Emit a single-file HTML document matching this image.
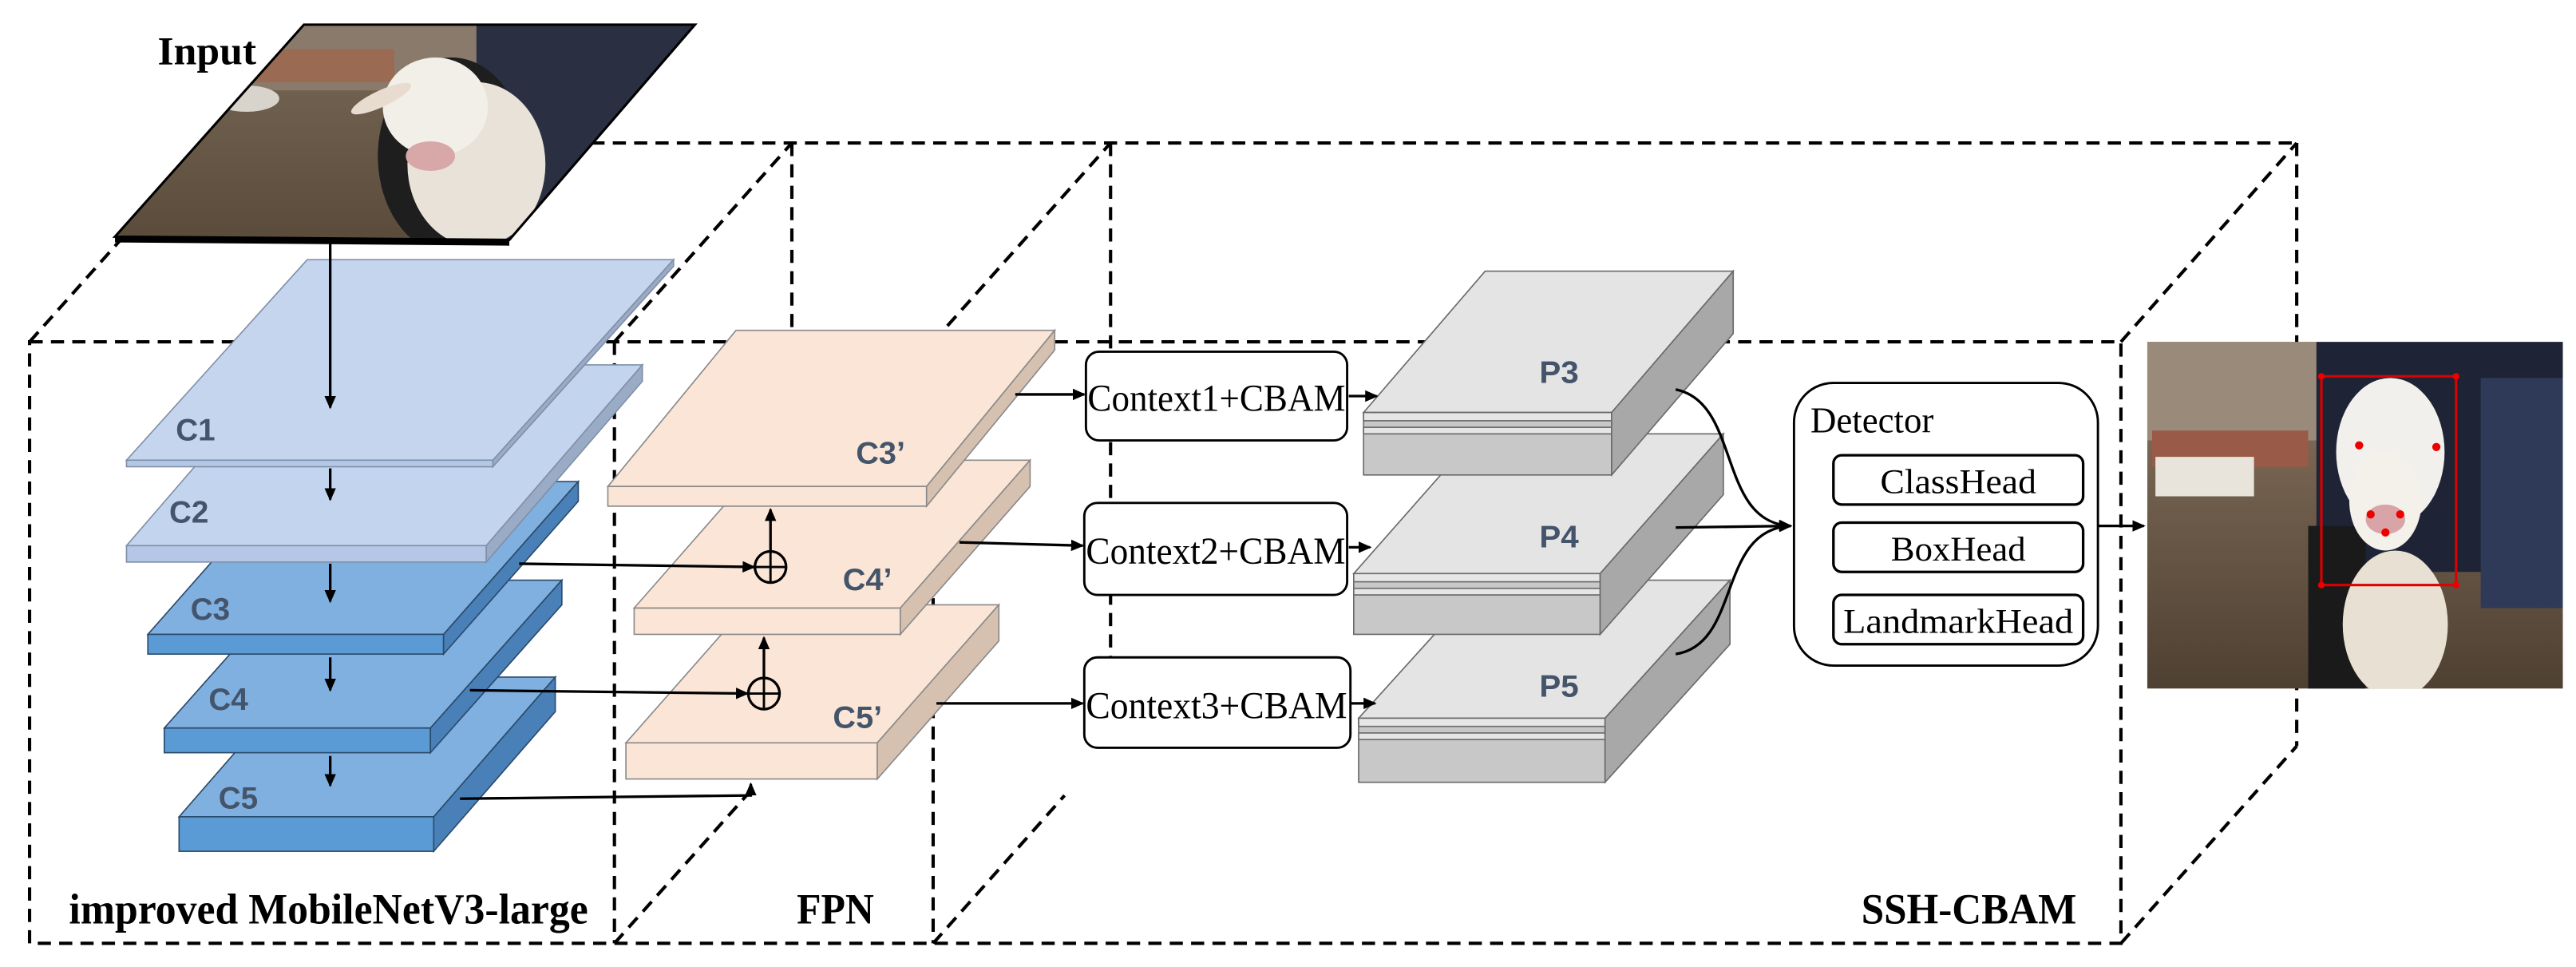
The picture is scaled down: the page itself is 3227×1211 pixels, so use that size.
<!DOCTYPE html>
<html><head><meta charset="utf-8"><style>
html,body{margin:0;padding:0;background:#fff;}
svg{display:block;}
.lbl{font-family:"Liberation Sans",sans-serif;font-weight:bold;fill:#44546a;font-size:19px;}
.ser{font-family:"Liberation Serif",serif;fill:#000;}
.bt{font-family:"Liberation Serif",serif;font-weight:bold;fill:#000;}
</style></head><body>
<svg width="3227" height="1211" viewBox="0 0 1568 588.4" preserveAspectRatio="none" xmlns="http://www.w3.org/2000/svg">
<defs>
<marker id="ah" markerWidth="8" markerHeight="8" refX="7" refY="4" orient="auto" markerUnits="userSpaceOnUse"><path d="M0,0.5 L8,4 L0,7.5 z" fill="#000"/></marker>
<clipPath id="inclip"><polygon points="185,15 423,15 310,146 70,144"/></clipPath>
<clipPath id="outclip"><rect x="1307" y="208" width="253" height="211"/></clipPath>
<linearGradient id="floor" x1="0" y1="0" x2="0" y2="1"><stop offset="0" stop-color="#7a6a58"/><stop offset="1" stop-color="#5a4a3a"/></linearGradient>
<linearGradient id="floor2" x1="0" y1="0" x2="0" y2="1"><stop offset="0" stop-color="#8a7560"/><stop offset="1" stop-color="#4e4032"/></linearGradient>
</defs>

<g fill="none" stroke="#000" stroke-width="2" stroke-dasharray="8,5">
<rect x="18" y="208" width="1273" height="366"/>
<line x1="374" y1="208" x2="374" y2="574"/>
<line x1="568" y1="208" x2="568" y2="574"/>
<line x1="126" y1="87" x2="1398" y2="87"/>
<line x1="18" y1="208" x2="126" y2="87"/>
<line x1="374" y1="208" x2="482" y2="87"/>
<line x1="568" y1="208" x2="676" y2="87"/>
<line x1="1291" y1="208" x2="1398" y2="87"/>
<line x1="1398" y1="87" x2="1398" y2="454"/>
<line x1="1291" y1="574" x2="1398" y2="454"/>
<line x1="482" y1="87" x2="482" y2="205"/>
<line x1="676" y1="87" x2="676" y2="420"/>
<line x1="374" y1="574" x2="458" y2="480"/>
<line x1="568" y1="574" x2="648" y2="484"/>
</g>

<g stroke="#8090a8" stroke-width="0.8">
<polygon points="109,497 264,497 338,412 183,412" fill="#7fb0e0" stroke="#2a4a6a"/>
<rect x="109" y="497" width="155" height="21" fill="#5b9bd5" stroke="#2a4a6a"/>
<polygon points="264,497 338,412 338,433 264,518" fill="#4a80b8" stroke="#2a4a6a"/>
<polygon points="100,443 262,443 342,353 180,353" fill="#7fb0e0" stroke="#2a4a6a"/>
<rect x="100" y="443" width="162" height="15" fill="#5b9bd5" stroke="#2a4a6a"/>
<polygon points="262,443 342,353 342,368 262,458" fill="#4a80b8" stroke="#2a4a6a"/>
<polygon points="90,386 270,386 352,293 172,293" fill="#7fb0e0" stroke="#2a4a6a"/>
<rect x="90" y="386" width="180" height="12" fill="#5b9bd5" stroke="#2a4a6a"/>
<polygon points="270,386 352,293 352,305 270,398" fill="#4a80b8" stroke="#2a4a6a"/>
<polygon points="77,332 296,332 391,222 172,222" fill="#c3d4ee"/>
<rect x="77" y="332" width="219" height="10" fill="#b4c7e7"/>
<polygon points="296,332 391,222 391,232 296,342" fill="#9aabc6"/>
<polygon points="77,280 300,280 410,158 187,158" fill="#c5d5ee"/>
<rect x="77" y="280" width="223" height="4" fill="#b4c7e7"/>
<polygon points="300,280 410,158 410,162 300,284" fill="#9aabc6"/>
</g>

<g stroke="#8a8a8a" stroke-width="0.8">
<polygon points="381,452 534,452 608,368 455,368" fill="#fbe5d6"/>
<rect x="381" y="452" width="153" height="22" fill="#fbe5d6"/>
<polygon points="534,452 608,368 608,390 534,474" fill="#d6c0b0"/>
<polygon points="386,370 548,370 627,280 465,280" fill="#fbe5d6"/>
<rect x="386" y="370" width="162" height="16" fill="#fbe5d6"/>
<polygon points="548,370 627,280 627,296 548,386" fill="#d6c0b0"/>
<polygon points="370,296 564,296 642,201 448,201" fill="#fbe5d6"/>
<rect x="370" y="296" width="194" height="12" fill="#fbe5d6"/>
<polygon points="564,296 642,201 642,213 564,308" fill="#d6c0b0"/>
</g>

<g clip-path="url(#inclip)">
<rect x="60" y="10" width="370" height="140" fill="url(#floor)"/>
<rect x="60" y="10" width="370" height="45" fill="#8a7a6c"/>
<rect x="150" y="30" width="90" height="20" fill="#9a6a52"/>
<rect x="290" y="10" width="140" height="140" fill="#2a3042"/>
<ellipse cx="150" cy="60" rx="20" ry="8" fill="#d8d4cc"/>
<ellipse cx="275" cy="95" rx="45" ry="60" fill="#1e1e1e"/>
<ellipse cx="290" cy="100" rx="42" ry="50" fill="#e8e2d8"/>
<ellipse cx="265" cy="65" rx="32" ry="30" fill="#f2eee8"/>
<ellipse cx="262" cy="95" rx="15" ry="9" fill="#d8a8a8"/>
<ellipse cx="232" cy="60" rx="20" ry="5" fill="#e8dcd0" transform="rotate(-25 232 60)"/>
</g>
<polygon points="185,15 423,15 310,146 70,144" fill="none" stroke="#000" stroke-width="1.5"/>
<line x1="70" y1="146" x2="310" y2="148" stroke="#000" stroke-width="3"/>

<g stroke="#6a6a6a" stroke-width="0.8">
<g>
<polygon points="827,437 977,437 1053,353 903,353" fill="#e4e4e4"/>
<rect x="827" y="437" width="150" height="39" fill="#c8c8c8"/>
<rect x="827" y="437" width="150" height="5" fill="#e6e6e6"/>
<rect x="827" y="446" width="150" height="4" fill="#e6e6e6"/>
<polygon points="977,437 1053,353 1053,392 977,476" fill="#a8a8a8"/>
</g>
<g>
<polygon points="824,349 974,349 1049,264 899,264" fill="#e4e4e4"/>
<rect x="824" y="349" width="150" height="37" fill="#c8c8c8"/>
<rect x="824" y="349" width="150" height="5" fill="#e6e6e6"/>
<rect x="824" y="358" width="150" height="4" fill="#e6e6e6"/>
<polygon points="974,349 1049,264 1049,301 974,386" fill="#a8a8a8"/>
</g>
<g>
<polygon points="830,251 981,251 1055,165 904,165" fill="#e4e4e4"/>
<rect x="830" y="251" width="151" height="38" fill="#c8c8c8"/>
<rect x="830" y="251" width="151" height="5" fill="#e6e6e6"/>
<rect x="830" y="260" width="151" height="4" fill="#e6e6e6"/>
<polygon points="981,251 1055,165 1055,203 981,289" fill="#a8a8a8"/>
</g>
</g>

<text class="lbl" x="107" y="268" textLength="24" lengthAdjust="spacingAndGlyphs">C1</text>
<text class="lbl" x="103" y="318" textLength="24" lengthAdjust="spacingAndGlyphs">C2</text>
<text class="lbl" x="116" y="377" textLength="24" lengthAdjust="spacingAndGlyphs">C3</text>
<text class="lbl" x="127" y="432" textLength="24" lengthAdjust="spacingAndGlyphs">C4</text>
<text class="lbl" x="133" y="492" textLength="24" lengthAdjust="spacingAndGlyphs">C5</text>
<text class="lbl" x="521" y="282" textLength="30" lengthAdjust="spacingAndGlyphs">C3’</text>
<text class="lbl" x="513" y="359" textLength="30" lengthAdjust="spacingAndGlyphs">C4’</text>
<text class="lbl" x="507" y="443" textLength="30" lengthAdjust="spacingAndGlyphs">C5’</text>
<text class="lbl" x="937" y="233" textLength="24" lengthAdjust="spacingAndGlyphs">P3</text>
<text class="lbl" x="937" y="333" textLength="24" lengthAdjust="spacingAndGlyphs">P4</text>
<text class="lbl" x="937" y="424" textLength="24" lengthAdjust="spacingAndGlyphs">P5</text>

<g stroke="#000" stroke-width="1.6" fill="none" marker-end="url(#ah)">
<line x1="201" y1="146" x2="201" y2="248"/>
<line x1="201" y1="285" x2="201" y2="304"/>
<line x1="201" y1="343" x2="201" y2="366"/>
<line x1="201" y1="400" x2="201" y2="420"/>
<line x1="201" y1="460" x2="201" y2="478"/>
<line x1="316" y1="343" x2="459" y2="345"/>
<line x1="286" y1="420" x2="455" y2="422"/>
<polyline points="280,486 457,484 457,477"/>
<line x1="469" y1="335" x2="469" y2="310"/>
<line x1="465" y1="412" x2="465" y2="388"/>
<line x1="618" y1="240" x2="660" y2="240"/>
<line x1="584" y1="330" x2="659" y2="332"/>
<line x1="570" y1="428" x2="659" y2="428"/>
<line x1="821" y1="241" x2="838" y2="241"/>
<line x1="821" y1="333" x2="834" y2="333"/>
<line x1="822" y1="428" x2="837" y2="428"/>
<path d="M1020,237 C1060,245 1045,318 1090,320"/>
<line x1="1020" y1="321" x2="1090" y2="320"/>
<path d="M1020,398 C1060,392 1045,322 1090,320"/>
<line x1="1277" y1="320" x2="1305" y2="320"/>
</g>
<circle cx="469" cy="345" r="9.5" fill="none" stroke="#000" stroke-width="1.6"/>
<line x1="459.5" y1="345" x2="478.5" y2="345" stroke="#000" stroke-width="1.4"/>
<line x1="469" y1="335.5" x2="469" y2="354.5" stroke="#000" stroke-width="1.4"/>
<circle cx="465" cy="422" r="9.5" fill="none" stroke="#000" stroke-width="1.6"/>
<line x1="455.5" y1="422" x2="474.5" y2="422" stroke="#000" stroke-width="1.4"/>
<line x1="465" y1="412.5" x2="465" y2="431.5" stroke="#000" stroke-width="1.4"/>

<g fill="#fff" stroke="#000" stroke-width="1.4">
<rect x="661" y="214" width="159" height="54" rx="8"/>
<rect x="660" y="306" width="160" height="56" rx="8"/>
<rect x="660" y="400" width="162" height="55" rx="8"/>
</g>
<text class="ser" x="662" y="250" font-size="23" textLength="157" lengthAdjust="spacingAndGlyphs">Context1+CBAM</text>
<text class="ser" x="661" y="343" font-size="23" textLength="158" lengthAdjust="spacingAndGlyphs">Context2+CBAM</text>
<text class="ser" x="661" y="437" font-size="23" textLength="159" lengthAdjust="spacingAndGlyphs">Context3+CBAM</text>

<rect x="1092" y="233" width="185" height="172" rx="24" fill="#fff" stroke="#000" stroke-width="1.4"/>
<text class="ser" x="1102" y="263" font-size="22" textLength="75" lengthAdjust="spacingAndGlyphs">Detector</text>
<g fill="#fff" stroke="#000" stroke-width="1.6">
<rect x="1116" y="277" width="152" height="30" rx="5"/>
<rect x="1116" y="318" width="152" height="30" rx="5"/>
<rect x="1116" y="362" width="152" height="30" rx="5"/>
</g>
<text class="ser" x="1192" y="300" font-size="21" text-anchor="middle" textLength="95" lengthAdjust="spacingAndGlyphs">ClassHead</text>
<text class="ser" x="1192" y="341" font-size="21" text-anchor="middle" textLength="82" lengthAdjust="spacingAndGlyphs">BoxHead</text>
<text class="ser" x="1192" y="385" font-size="21" text-anchor="middle" textLength="140" lengthAdjust="spacingAndGlyphs">LandmarkHead</text>

<g clip-path="url(#outclip)">
<rect x="1307" y="208" width="253" height="211" fill="url(#floor2)"/>
<rect x="1307" y="208" width="105" height="60" fill="#9a8a7a"/>
<rect x="1310" y="262" width="95" height="22" fill="#9a5a48"/>
<rect x="1312" y="278" width="60" height="24" fill="#e8e4dc"/>
<rect x="1410" y="208" width="150" height="140" fill="#1e2436"/>
<rect x="1510" y="230" width="50" height="140" fill="#2e3a58"/>
<rect x="1405" y="320" width="35" height="99" fill="#1a1a1a"/>
<ellipse cx="1458" cy="380" rx="32" ry="45" fill="#e8e0d2"/>
<ellipse cx="1455" cy="275" rx="33" ry="45" fill="#f2f0ec"/>
<ellipse cx="1452" cy="305" rx="22" ry="30" fill="#f4f0ea"/>
<ellipse cx="1452" cy="316" rx="12" ry="9" fill="#d8a4a8"/>
</g>
<rect x="1413" y="229" width="82" height="127" fill="none" stroke="#d00" stroke-width="1.5"/>
<g fill="#e00">
<circle cx="1413" cy="229" r="2"/><circle cx="1495" cy="229" r="2"/><circle cx="1413" cy="356" r="2"/><circle cx="1495" cy="356" r="2"/>
<circle cx="1436" cy="271" r="2.5"/><circle cx="1483" cy="272" r="2.5"/><circle cx="1443" cy="313" r="2.5"/><circle cx="1461" cy="313" r="2.5"/><circle cx="1452" cy="324" r="2.5"/>
</g>

<text class="bt" x="96" y="39" font-size="24" textLength="60" lengthAdjust="spacingAndGlyphs">Input</text>
<text class="bt" x="42" y="562" font-size="26" textLength="316" lengthAdjust="spacingAndGlyphs">improved MobileNetV3-large</text>
<text class="bt" x="485" y="562" font-size="26" textLength="47" lengthAdjust="spacingAndGlyphs">FPN</text>
<text class="bt" x="1133" y="562" font-size="26" textLength="131" lengthAdjust="spacingAndGlyphs">SSH-CBAM</text>
</svg>
</body></html>
